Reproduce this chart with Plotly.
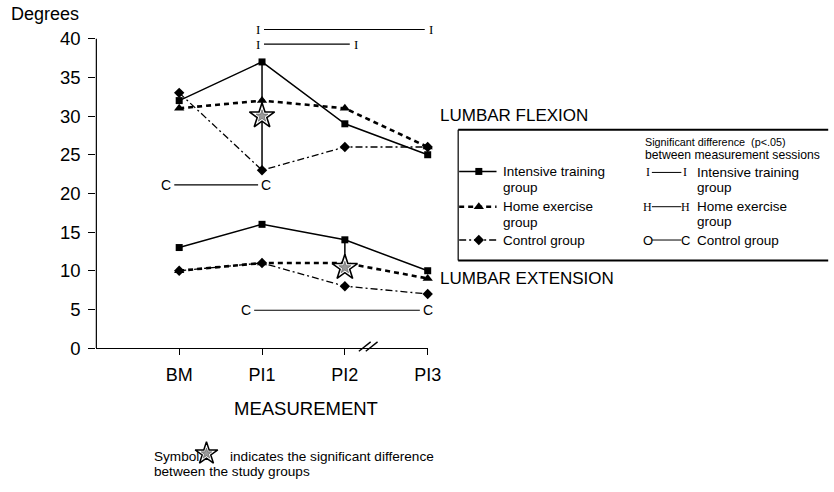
import plotly.graph_objects as go

# ---------------- data ----------------
measurements = ["BM", "PI1", "PI2", "PI3"]

flexion_intensive = [32, 37, 29, 25]
flexion_home = [31, 32, 31, 26]
flexion_control = [33, 23, 26, 26]

extension_intensive = [13, 16, 14, 10]
extension_home = [10, 11, 11, 9]
extension_control = [10, 11, 8, 7]

y_tick_values = [0, 5, 10, 15, 20, 25, 30, 35, 40]

# significant differences between the study groups (measurement, star level)
flexion_star = ("PI1", 30)
extension_star = ("PI2", 10.4)

# significant differences between measurement sessions (letter, from, to, level)
session_differences = [
    ("I", "PI1", "PI3", 41.2),
    ("I", "PI1", "PI2", 39.3),
    ("C", "BM", "PI1", 21.1),
    ("C", "PI1", "PI3", 4.9),
]

# ---------------- layout constants ----------------
W, H = 834, 492
SANS = "Liberation Sans, Arial, sans-serif"
SERIF = "Liberation Serif, Times New Roman, serif"

PLOT_L, PLOT_R = 98, 435          # x-axis pixel span
PLOT_B, PLOT_T = 355.3, 19.8      # y-axis pixel span
X_RANGE = (-1, 3)
Y_RANGE = (0, 42.5)


def fx(p):
    return p / W


def fy(p):
    return 1 - p / H


def x_pix(cat):
    i = measurements.index(cat)
    return PLOT_L + (i - X_RANGE[0]) / (X_RANGE[1] - X_RANGE[0]) * (PLOT_R - PLOT_L)


fig = go.Figure()

styles = {
    "int": dict(line=dict(color="black", width=1.5), marker=dict(symbol="square", size=7, color="black")),
    "home": dict(line=dict(color="black", width=2.6, dash="5px,4px"),
                 marker=dict(symbol="triangle-up", size=9, color="black")),
    "ctrl": dict(line=dict(color="black", width=1.3, dash="7px,3px,2px,3px"),
                 marker=dict(symbol="diamond", size=8, color="black")),
}

series = [
    ("int", "Intensive training group", flexion_intensive, extension_intensive),
    ("home", "Home exercise group", flexion_home, extension_home),
    ("ctrl", "Control group", flexion_control, extension_control),
]

# between-group connectors with star symbols
fx_i = measurements.index(flexion_star[0])
ex_i = measurements.index(extension_star[0])
fig.add_trace(go.Scatter(x=[flexion_star[0]] * 2, y=[flexion_intensive[fx_i], flexion_control[fx_i]],
                         mode="lines", line=dict(color="black", width=1.5), showlegend=False, hoverinfo="skip"))
fig.add_trace(go.Scatter(x=[extension_star[0]] * 2, y=[extension_intensive[ex_i], extension_star[1]],
                         mode="lines", line=dict(color="black", width=1.5), showlegend=False, hoverinfo="skip"))

for key, name, flex, ext in series:
    st = styles[key]
    for vals in (flex, ext):
        fig.add_trace(go.Scatter(
            x=measurements, y=vals, mode="lines+markers", name=name,
            showlegend=False, cliponaxis=False,
            line=st["line"], marker=st["marker"],
        ))

star_x = [flexion_star[0], extension_star[0]]
star_y = [flexion_star[1], extension_star[1]]
fig.add_trace(go.Scatter(x=star_x, y=star_y, mode="markers", showlegend=False, cliponaxis=False,
                         marker=dict(symbol="star", size=19, color="white", line=dict(color="black", width=1.6))))
fig.add_trace(go.Scatter(x=star_x, y=star_y, mode="markers", showlegend=False, cliponaxis=False,
                         marker=dict(symbol="star", size=9, color="#9a9a9a", line=dict(color="#555", width=0.6))))

# ---- key drawn on a pixel overlay (x2/y2) ----
key_rows_left = [("int", 175), ("home", 211), ("ctrl", 245)]
for key, yy in key_rows_left:
    st = styles[key]
    fig.add_trace(go.Scatter(x=[467, 505], y=[yy, yy], xaxis="x2", yaxis="y2", mode="lines",
                             line=st["line"], showlegend=False, hoverinfo="skip"))
    fig.add_trace(go.Scatter(x=[487], y=[yy], xaxis="x2", yaxis="y2", mode="markers",
                             marker=st["marker"], showlegend=False, hoverinfo="skip"))

# star key in the footnote
fig.add_trace(go.Scatter(x=[210], y=[463], xaxis="x2", yaxis="y2", mode="markers", showlegend=False,
                         marker=dict(symbol="star", size=17, color="white", line=dict(color="black", width=1.5))))
fig.add_trace(go.Scatter(x=[210], y=[463], xaxis="x2", yaxis="y2", mode="markers", showlegend=False,
                         marker=dict(symbol="star", size=8, color="#9a9a9a", line=dict(color="#555", width=0.6))))

shapes = []
annotations = []

# y-axis line from 0 to 40
shapes.append(dict(type="line", xref="paper", yref="y", x0=fx(PLOT_L), x1=fx(PLOT_L),
                   y0=0, y1=40, line=dict(color="black", width=1.2)))

# axis break on the x-axis between PI2 and PI3
for dx in (0, 7):
    shapes.append(dict(type="line", xref="paper", yref="paper",
                       x0=fx(365 + dx), y0=fy(358.5), x1=fx(377 + dx), y1=fy(349),
                       line=dict(color="black", width=1.4)))

# session-difference bars
letter_offsets = [(-4, 3), (-4, 11), (-13, 4), (-16, 0)]
for (letter, c0, c1, level), (o0, o1) in zip(session_differences, letter_offsets):
    xl = x_pix(c0) + o0
    xr = x_pix(c1) + o1
    gap = 6 if letter == "I" else 8
    shapes.append(dict(type="line", xref="paper", yref="y", x0=fx(xl + gap), x1=fx(xr - gap),
                       y0=level, y1=level, line=dict(color="black", width=1.1)))
    fam, size = (SERIF, 13) if letter == "I" else (SANS, 14)
    for xp in (xl, xr):
        annotations.append(dict(text=letter, xref="paper", yref="y", x=fx(xp), y=level,
                                xanchor="center", yanchor="middle", showarrow=False,
                                font=dict(family=fam, size=size, color="black")))

# key box
BOX_L, BOX_T, BOX_B = 466, 132.5, 266
shapes.append(dict(type="line", xref="paper", yref="paper", x0=fx(BOX_L), x1=1.01, y0=fy(BOX_T), y1=fy(BOX_T),
                   line=dict(color="black", width=2)))
shapes.append(dict(type="line", xref="paper", yref="paper", x0=fx(BOX_L), x1=1.01, y0=fy(BOX_B), y1=fy(BOX_B),
                   line=dict(color="black", width=2)))
shapes.append(dict(type="line", xref="paper", yref="paper", x0=fx(BOX_L), x1=fx(BOX_L), y0=fy(BOX_T), y1=fy(BOX_B),
                   line=dict(color="black", width=1.2)))


def text(s, x, y, size=14, anchor="left", family=SANS, valign="middle"):
    annotations.append(dict(text=s, xref="paper", yref="paper", x=fx(x), y=fy(y), xanchor=anchor,
                            yanchor=valign, showarrow=False, align="left",
                            font=dict(family=family, size=size, color="black")))


# left-hand key: study groups
for (name, yy) in [("Intensive training", 175), ("Home exercise", 211), ("Control group", 245)]:
    text(name, 510, yy, size=13.5)
for yy in (191, 227):
    text("group", 510, yy, size=13.5)

# right-hand key: differences between measurement sessions
text("Significant difference  (p<.05)", 654, 145, size=10.8)
text("between measurement sessions", 654, 158, size=12.2)

key_rows = [("I", "I", SERIF, 176, "Intensive training", "group"),
            ("H", "H", SERIF, 211, "Home exercise", "group"),
            ("O", "C", SANS, 245, "Control group", None)]
for l0, l1, fam, yy, t1, t2 in key_rows:
    text(l0, 659, yy, size=12 if fam == SERIF else 13, anchor="center", family=fam)
    text(l1, 697, yy, size=12 if fam == SERIF else 13, anchor="center", family=fam)
    shapes.append(dict(type="line", xref="paper", yref="paper", x0=fx(663), x1=fx(693), y0=fy(yy), y1=fy(yy),
                       line=dict(color="black", width=1)))
    text(t1, 707, yy, size=13.5)
    if t2:
        text(t2, 707, yy + 15.5, size=13.5)

# panel labels
text("LUMBAR FLEXION", 445, 118, size=17)
text("LUMBAR EXTENSION", 445, 284, size=17)

# axis titles
text("Degrees", 9, 14, size=18)
text("MEASUREMENT", 311, 417, size=18.5, anchor="center")

# footnote
text("Symbol", 155, 466, size=13.6)
text("indicates the significant difference", 232, 466, size=13.6)
text("between the study groups", 155, 481, size=13.6)

fig.update_layout(
    width=W, height=H,
    margin=dict(l=0, r=0, t=0, b=0),
    paper_bgcolor="white", plot_bgcolor="rgba(0,0,0,0)",
    font=dict(family=SANS, color="black"),
    showlegend=False,
    xaxis=dict(domain=[fx(PLOT_L), fx(PLOT_R)], range=list(X_RANGE), type="category",
               categoryorder="array", categoryarray=measurements,
               showline=True, linecolor="black", linewidth=1.2, showgrid=False, zeroline=False,
               ticks="outside", ticklen=6, tickcolor="black", tickwidth=1.2, ticklabelstandoff=4,
               tickfont=dict(size=18, family=SANS, color="black")),
    yaxis=dict(domain=[fy(PLOT_B), fy(PLOT_T)], range=list(Y_RANGE),
               tickvals=y_tick_values, showline=False, showgrid=False, zeroline=False,
               ticks="outside", ticklen=7, tickcolor="black", tickwidth=1.2, ticklabelstandoff=4,
               tickfont=dict(size=18.5, family=SANS, color="black")),
    xaxis2=dict(domain=[0, 1], range=[0, W], visible=False, anchor="y2"),
    yaxis2=dict(domain=[0, 1], range=[H, 0], visible=False, anchor="x2"),
    shapes=shapes, annotations=annotations,
)

fig.write_html("out.html")
